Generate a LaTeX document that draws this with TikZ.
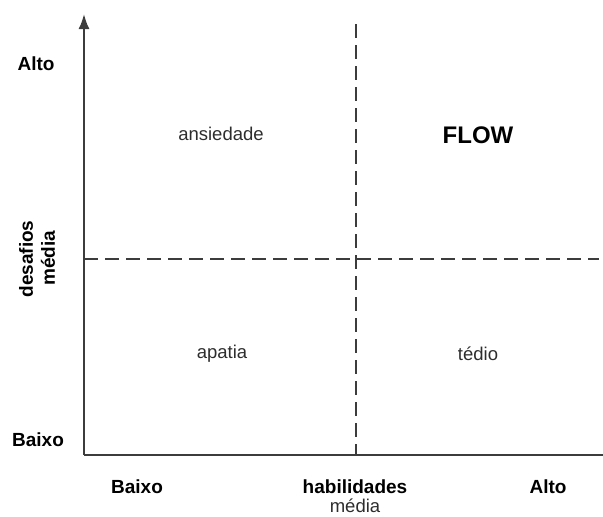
\documentclass[tikz,border=0pt]{standalone}
\usepackage{fontspec}
\setmainfont{Liberation Sans}
\usepackage{tikz}
\usetikzlibrary{arrows.meta}
\definecolor{axisgray}{RGB}{60,60,60}
\definecolor{txtgray}{RGB}{45,45,45}

\begin{document}
\begin{tikzpicture}[x=1pt,y=-1pt,
  lbl/.style={font=\fontsize{19}{19}\selectfont\bfseries, inner sep=0pt},
  quad/.style={font=\fontsize{18.5}{19}\selectfont, txtgray, inner sep=0pt},
  divider/.style={axisgray, line width=1.7pt, dash pattern=on 14pt off 7pt}]
\useasboundingbox (0,0) rectangle (603,517);
% axes
\coordinate (o) at (84,455);
\coordinate (ytop) at (84,14);
\coordinate (xend) at (603,455);
\draw[axisgray, line width=2pt, -{Latex[length=15pt,width=11pt]}] (o) -- (ytop);
\draw[axisgray, line width=2pt] (o) -- (xend);
% median lines
\coordinate (vtop) at (356,24);
\coordinate (vbot) at (356,455);
\coordinate (hleft) at (84,259);
\coordinate (hright) at (599,259);
\draw[divider] (vtop) -- (vbot);
\draw[divider] (hleft) -- (hright);
% quadrants
\node[quad] (ansiedade) at (221,134) {ansiedade};
\node[font=\fontsize{24}{24}\selectfont\bfseries, inner sep=0pt] (flow) at (478,135) {FLOW};
\node[quad] (apatia) at (222,354) {apatia};
\node[quad] (tedio) at (478,354) {tédio};
% y labels
\node[lbl] (yalto) at (36,64) {Alto};
\node[lbl] (ybaixo) at (38,440) {Baixo};
\node[lbl, rotate=90] (desafios) at (26,259) {desafios};
\node[lbl, rotate=90] (ymedia) at (48,258) {média};
% x labels
\node[lbl] (xbaixo) at (137,487) {Baixo};
\node[lbl] (habil) at (355,487) {habilidades};
\node[lbl] (xalto) at (548,487) {Alto};
\node[quad] (xmedia) at (355,506) {média};
\end{tikzpicture}
\end{document}
